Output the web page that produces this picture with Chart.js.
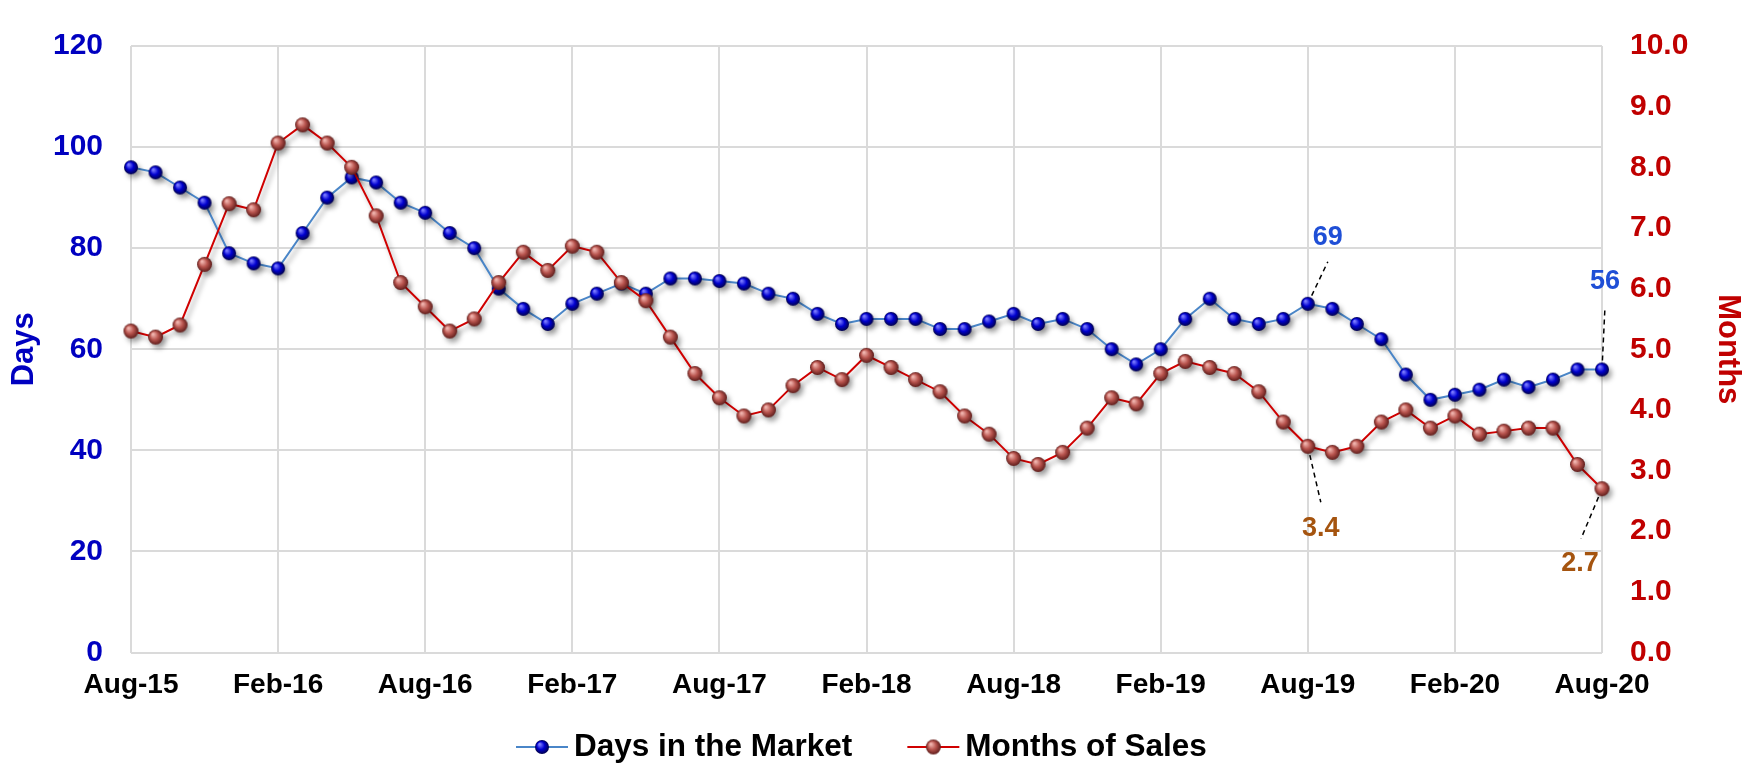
<!DOCTYPE html>
<html>
<head>
<meta charset="utf-8">
<script src="https://cdn.jsdelivr.net/npm/chart.js@4.4.1/dist/chart.umd.min.js"></script>
<style>
  html, body { margin: 0; padding: 0; background: #fff; }
</style>
</head>
<body>
<canvas id="chart" width="1751" height="765"></canvas>
<script>
// months, Aug-15 .. Aug-20
const categories = [
  'Aug-15','Sep-15','Oct-15','Nov-15','Dec-15',
  'Jan-16','Feb-16','Mar-16','Apr-16','May-16','Jun-16','Jul-16','Aug-16','Sep-16','Oct-16','Nov-16','Dec-16',
  'Jan-17','Feb-17','Mar-17','Apr-17','May-17','Jun-17','Jul-17','Aug-17','Sep-17','Oct-17','Nov-17','Dec-17',
  'Jan-18','Feb-18','Mar-18','Apr-18','May-18','Jun-18','Jul-18','Aug-18','Sep-18','Oct-18','Nov-18','Dec-18',
  'Jan-19','Feb-19','Mar-19','Apr-19','May-19','Jun-19','Jul-19','Aug-19','Sep-19','Oct-19','Nov-19','Dec-19',
  'Jan-20','Feb-20','Mar-20','Apr-20','May-20','Jun-20','Jul-20','Aug-20'
];

const daysInMarket = [
  96, 95, 92, 89, 79,
  77, 76, 83, 90, 94, 93, 89, 87, 83, 80, 72, 68,
  65, 69, 71, 73, 71, 74, 74, 73.5, 73, 71, 70, 67,
  65, 66, 66, 66, 64, 64, 65.5, 67, 65, 66, 64, 60,
  57, 60, 66, 70, 66, 65, 66, 69, 68, 65, 62, 55,
  50, 51, 52, 54, 52.5, 54, 56, 56
];

const monthsOfSales = [
  5.3, 5.2, 5.4, 6.4, 7.4,
  7.3, 8.4, 8.7, 8.4, 8.0, 7.2, 6.1, 5.7, 5.3, 5.5, 6.1, 6.6,
  6.3, 6.7, 6.6, 6.1, 5.8, 5.2, 4.6, 4.2, 3.9, 4.0, 4.4, 4.7,
  4.5, 4.9, 4.7, 4.5, 4.3, 3.9, 3.6, 3.2, 3.1, 3.3, 3.7, 4.2,
  4.1, 4.6, 4.8, 4.7, 4.6, 4.3, 3.8, 3.4, 3.3, 3.4, 3.8, 4.0,
  3.7, 3.9, 3.6, 3.65, 3.7, 3.7, 3.1, 2.7
];

const seriesNames = ['Days in the Market', 'Months of Sales'];
const labelEvery = 6;

const FONT = '"Liberation Sans", Arial, sans-serif';
const GRID = '#dadada';
const BLUE = '#0000c0';
const RED = '#c00000';
const LINE_COLORS = ['#4a86c8', '#d00000'];

// shiny ball markers
function sphere(r, hi, mid, dark) {
  const c = document.createElement('canvas');
  c.width = c.height = Math.ceil(r * 2 + 2);
  const g = c.getContext('2d');
  const m = c.width / 2;
  const grad = g.createRadialGradient(m - r * 0.35, m - r * 0.4, r * 0.1, m, m, r);
  grad.addColorStop(0, hi);
  grad.addColorStop(0.5, mid);
  grad.addColorStop(1, dark);
  g.fillStyle = grad;
  g.beginPath();
  g.arc(m, m, r, 0, Math.PI * 2);
  g.fill();
  return c;
}

const blueBall = sphere(7, '#7b7bff', '#0000d0', '#00004a');
const redBall = sphere(7.5, '#f0b4ae', '#b8544e', '#5e1c1a');
const balls = [blueBall, redBall];

// labelled points with dashed leader lines
const callouts = [
  { dataset: 0, category: 'Aug-19', lx: 20, ly: -42, tx: 20, ty: -66, color: '#1f4fd6', digits: 0 },
  { dataset: 0, category: 'Aug-20', lx: 3, ly: -63, tx: 3, ty: -88, color: '#1f4fd6', digits: 0 },
  { dataset: 1, category: 'Aug-19', lx: 13, ly: 56, tx: 13, ty: 82, color: '#a5540f', digits: 1 },
  { dataset: 1, category: 'Aug-20', lx: -21, ly: 50, tx: -22, ty: 75, color: '#a5540f', digits: 1 }
];

const calloutPlugin = {
  id: 'callouts',
  beforeDatasetsDraw(chart) {
    const ctx = chart.ctx;
    ctx.save();
    ctx.strokeStyle = '#000';
    ctx.lineWidth = 1.5;
    ctx.setLineDash([5, 4]);
    callouts.forEach(c => {
      const pt = chart.getDatasetMeta(c.dataset).data[categories.indexOf(c.category)];
      ctx.beginPath();
      ctx.moveTo(pt.x, pt.y);
      ctx.lineTo(pt.x + c.lx, pt.y + c.ly);
      ctx.stroke();
    });
    ctx.restore();
  },
  afterDraw(chart) {
    const ctx = chart.ctx;
    ctx.save();
    ctx.font = 'bold 27px ' + FONT;
    ctx.textAlign = 'center';
    ctx.textBaseline = 'middle';
    callouts.forEach(c => {
      const i = categories.indexOf(c.category);
      const pt = chart.getDatasetMeta(c.dataset).data[i];
      const v = chart.data.datasets[c.dataset].data[i];
      ctx.fillStyle = c.color;
      ctx.fillText(v.toFixed(c.digits), pt.x + c.tx, pt.y + c.ty);
    });
    ctx.restore();
  }
};

// legend: line + ball, then label
const legendPlugin = {
  id: 'lineLegend',
  afterDraw(chart) {
    const ctx = chart.ctx;
    const iconW = 52, textGap = 6, itemGap = 55, y = 747;
    let x = 516;
    ctx.save();
    ctx.font = 'bold 31.5px ' + FONT;
    ctx.textBaseline = 'middle';
    ctx.textAlign = 'left';
    chart.data.datasets.forEach((ds, i) => {
      ctx.strokeStyle = LINE_COLORS[i];
      ctx.lineWidth = 2;
      ctx.beginPath();
      ctx.moveTo(x, y);
      ctx.lineTo(x + iconW, y);
      ctx.stroke();
      const b = balls[i];
      ctx.drawImage(b, x + iconW / 2 - b.width / 2, y - b.height / 2);
      ctx.fillStyle = '#000';
      ctx.fillText(ds.label, x + iconW + textGap, y);
      x += iconW + textGap + ctx.measureText(ds.label).width + itemGap;
    });
    ctx.restore();
  }
};

const shadowPlugin = {
  id: 'shadow',
  beforeDatasetsDraw(chart) {
    const ctx = chart.ctx;
    ctx.save();
    ctx.shadowColor = 'rgba(0,0,0,0.35)';
    ctx.shadowBlur = 5;
    ctx.shadowOffsetX = 3;
    ctx.shadowOffsetY = 4;
  },
  afterDatasetsDraw(chart) {
    chart.ctx.restore();
  }
};

new Chart(document.getElementById('chart'), {
  type: 'line',
  data: {
    labels: categories,
    datasets: [
      {
        label: seriesNames[0],
        data: daysInMarket,
        yAxisID: 'y',
        borderColor: LINE_COLORS[0],
        borderWidth: 2,
        pointStyle: blueBall,
        pointRadius: 8,
        tension: 0,
        clip: false,
        order: 1
      },
      {
        label: seriesNames[1],
        data: monthsOfSales,
        yAxisID: 'y1',
        borderColor: LINE_COLORS[1],
        borderWidth: 2,
        pointStyle: redBall,
        pointRadius: 8,
        tension: 0,
        clip: false,
        order: 0
      }
    ]
  },
  options: {
    responsive: false,
    devicePixelRatio: 1,
    animation: false,
    layout: { padding: { top: 22, left: 0, right: 0, bottom: 62.5 } },
    scales: {
      x: {
        ticks: {
          autoSkip: false,
          maxRotation: 0,
          padding: 16,
          color: '#000',
          font: { family: FONT, size: 28, weight: 'bold' },
          callback: (value, index) => index % labelEvery === 0 ? categories[index] : null
        },
        grid: { color: GRID, lineWidth: 2, drawTicks: false },
        border: { display: false },
        afterFit(scale) { scale.height = 50; }
      },
      y: {
        position: 'left',
        min: 0,
        max: 120,
        ticks: {
          stepSize: 20,
          padding: 28,
          color: BLUE,
          font: { family: FONT, size: 30, weight: 'bold' }
        },
        grid: { color: GRID, lineWidth: 2, drawTicks: false },
        border: { display: false },
        title: {
          display: true,
          text: 'Days',
          color: BLUE,
          font: { family: FONT, size: 31, weight: 'bold' },
          padding: { top: 6, bottom: 0 }
        },
        afterFit(scale) { scale.width = 131; }
      },
      y1: {
        position: 'right',
        min: 0,
        max: 10,
        ticks: {
          stepSize: 1,
          padding: 28,
          color: RED,
          font: { family: FONT, size: 30, weight: 'bold' },
          callback: v => v.toFixed(1)
        },
        grid: { display: false, drawTicks: false },
        border: { display: false },
        title: {
          display: true,
          text: 'Months',
          color: RED,
          font: { family: FONT, size: 31, weight: 'bold' },
          padding: { top: 5, bottom: 0 }
        },
        afterFit(scale) { scale.width = 149; }
      }
    },
    plugins: {
      legend: { display: false },
      tooltip: { enabled: false }
    }
  },
  plugins: [calloutPlugin, shadowPlugin, legendPlugin]
});
</script>
</body>
</html>
